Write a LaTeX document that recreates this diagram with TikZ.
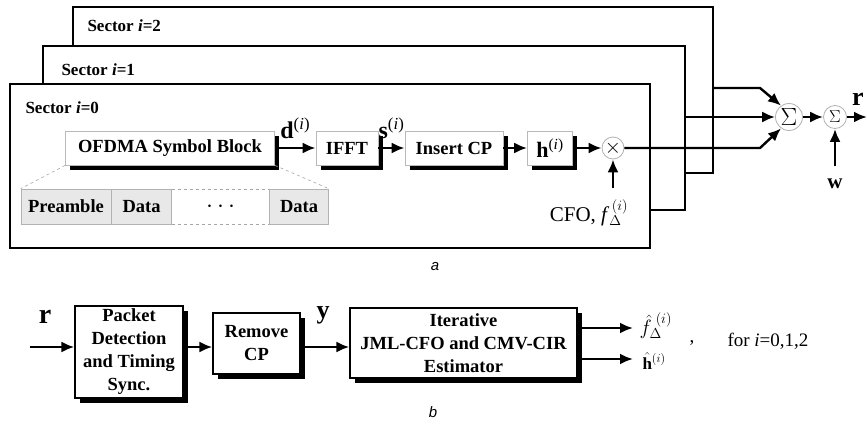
\documentclass[tikz,border=0pt]{standalone}
\usepackage{fontspec}
\setmainfont{Liberation Serif}
\newfontfamily\capfont{Liberation Sans}
\usetikzlibrary{shadows,positioning,arrows.meta}
\newcommand{\isup}{\textsuperscript{\normalfont(\textit{i})}}

\begin{document}
\begin{tikzpicture}[x=1pt, y=-1pt,
		arr/.style={line width=2.4pt, -{Latex[length=13pt, width=11pt]}},
		frame/.style={draw, line width=2.6pt, fill=white},
		blk/.style={draw=gray!55, line width=0.8pt, fill=white, inner sep=0pt, align=center,
			font=\fontsize{18.5}{23}\selectfont\bfseries,
			drop shadow={shadow xshift=4.5pt, shadow yshift=-4.5pt, fill=black, opacity=1}},
		rxblk/.style={blk, draw=black, line width=1.3pt},
		cell/.style={draw=gray!60, fill=gray!18, line width=0.6pt, minimum height=35, inner sep=0pt,
			font=\fontsize{18.5}{22}\selectfont\bfseries},
		op/.style={circle, draw=gray!60, line width=0.8pt, fill=white, inner sep=0pt},
		lbl/.style={font=\fontsize{17}{20}\selectfont\bfseries},
		sym/.style={font=\fontsize{24}{26}\selectfont\bfseries},
		captxt/.style={font=\capfont\itshape\fontsize{15}{18}\selectfont}]
	\useasboundingbox (0,0) rectangle (867,426);

	% sector frames, back to front
	\draw[frame] (73,7) rectangle (713,173);
	\node[lbl, anchor=west] (s2) at (84,26) {Sector \textit{i}=2};
	\draw[frame] (43,46) rectangle (685,210);
	\node[lbl, anchor=west] (s1) at (58,70) {Sector \textit{i}=1};
	\draw[frame] (10,84) rectangle (650,248);
	\node[lbl, anchor=west] (s0) at (22,108) {Sector \textit{i}=0};

	% transmitter chain of sector 0
	\node[blk, minimum width=209, minimum height=34] (ofdm) at (170,148) {OFDMA Symbol Block};
	\node[blk, minimum width=62, minimum height=34] (ifft) at (347,148) {IFFT};
	\node[blk, minimum width=98, minimum height=34] (icp) at (454,148) {Insert CP};
	\node[blk, minimum width=45, minimum height=34, font=\fontsize{22}{24}\selectfont\bfseries] (ch) at (550,148) {h\isup};
	\node[op, minimum size=22, font=\fontsize{20}{20}\selectfont] (mix) at (613,148) {$\times$};

	\draw[arr] (ofdm) -- node[above, sym, yshift=5pt]{d\isup} (ifft);
	\draw[arr] (ifft) -- node[above, sym, yshift=5pt]{s\isup} (icp);
	\draw[arr] (icp) -- (ch);
	\draw[arr] (ch) -- (mix);

	\node[cell, minimum width=90] (pre) at (66,206.5) {Preamble};
	\node[cell, minimum width=60, right=0pt of pre] (dat1) {Data};
	\node[minimum width=97, minimum height=35, inner sep=0pt, right=0pt of dat1, font=\fontsize{26}{26}\selectfont] (dots) {$\cdots$};
	\node[cell, minimum width=59, right=0pt of dots] (dat2) {Data};
	\draw[dashed, gray!70, line width=0.6pt] (dots.north west) -- (dots.north east) (dots.south west) -- (dots.south east);
	\draw[dashed, gray!70, line width=0.6pt] (ofdm.south west) -- (pre.north west) (ofdm.south east) -- (dat2.north east);

	\node[font=\fontsize{21}{24}\selectfont] (cfo) at (589,213) {CFO, \textit{f}$_\Delta^{\,(i)}$};
	\coordinate (cfoin) at (613,188);
	\draw[arr] (cfoin) -- (mix);

	% combining the sectors
	\coordinate (o2) at (713,88);
	\coordinate (k2) at (760,88);
	\coordinate (o1) at (685,117);
	\coordinate (k0) at (760,148);
	\node[op, minimum size=27, font=\fontsize{24}{24}\selectfont] (sum1) at (789,117) {$\Sigma$};
	\node[op, minimum size=23, font=\fontsize{19}{20}\selectfont] (sum2) at (835,117) {$\Sigma$};
	\draw[arr] (o2) -- (k2) -- (sum1.125);
	\draw[arr] (o1) -- (sum1);
	\draw[arr] (mix) -- (k0) -- (sum1.235);
	\draw[arr] (sum1) -- (sum2);
	\coordinate (rout) at (867,117);
	\draw[arr] (sum2) -- (rout);
	\node[sym, font=\fontsize{26}{28}\selectfont\bfseries] (rtop) at (858,99) {r};
	\node[sym, font=\fontsize{21}{24}\selectfont\bfseries] (wlab) at (835,184) {w};
	\coordinate (win) at (835,166);
	\draw[arr] (win) -- (sum2);

	\node[captxt] (capa) at (435,267) {a};

	% receiver
	\coordinate (rin) at (30,347);
	\node[font=\fontsize{28}{30}\selectfont\bfseries] (rlab) at (45,317) {r};
	\node[rxblk, minimum width=108, minimum height=92] (pkt) at (129,352) {Packet\\Detection\\and Timing\\Sync.};
	\node[rxblk, minimum width=87, minimum height=61] (rcp) at (256.5,343.5) {Remove\\CP};
	\node[rxblk, minimum width=227, minimum height=70] (est) at (463.5,343) {Iterative\\JML-CFO and CMV-CIR\\Estimator};
	\node[font=\fontsize{26}{28}\selectfont\bfseries] (ylab) at (323,315) {y};
	\draw[arr] (rin) -- (pkt.west |- rin);
	\draw[arr] (pkt.east |- rin) -- (rcp.west |- rin);
	\draw[arr] (rcp.east |- rin) -- (est.west |- rin);

	\coordinate (fo) at (633,328);
	\coordinate (ho) at (633,359);
	\draw[arr] (est.east |- fo) -- (fo);
	\draw[arr] (est.east |- ho) -- (ho);
	\node[anchor=west, font=\fontsize{22}{24}\selectfont] (fhat) at (636,326) {$\hat{f}_\Delta^{\;(i)}$};
	\node[anchor=west, font=\fontsize{17}{20}\selectfont] (hhat) at (639,361) {$\hat{\mathbf{h}}^{(i)}$};
	\node[font=\fontsize{19}{22}\selectfont] (comma) at (692,343) {,};
	\node[font=\fontsize{19}{22}\selectfont] (fori) at (768,341) {for \textit{i}=0,1,2};

	\node[captxt] (capb) at (433,412) {b};
\end{tikzpicture}
\end{document}
